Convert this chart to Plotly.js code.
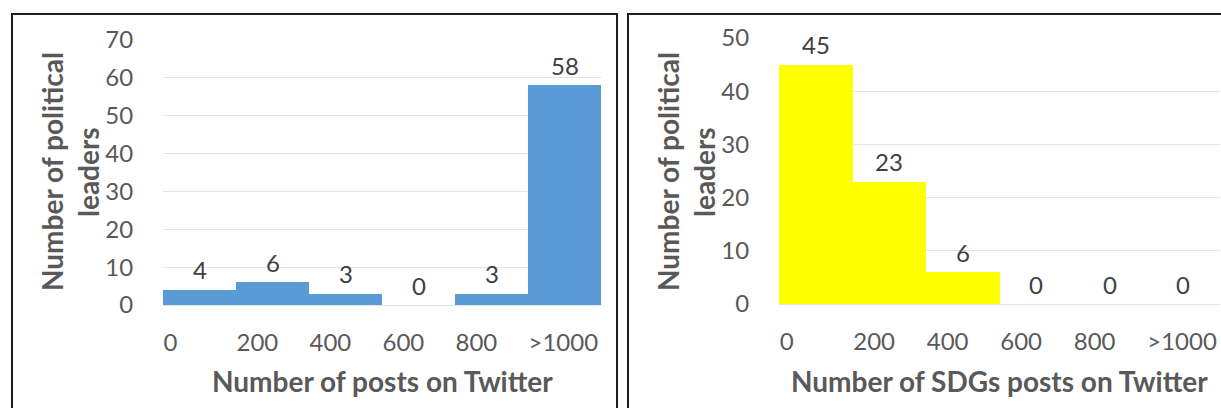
<!DOCTYPE html>
<html>
<head>
<meta charset="utf-8">
<script src="https://cdn.plot.ly/plotly-3.0.1.min.js"></script>
<style>
  html, body { margin: 0; padding: 0; background: #ffffff; }
  #chart { width: 1221px; height: 408px; }
</style>
</head>
<body>
<div id="chart"></div>
<script>
// ---- data ----
var categories = ['0', '200', '400', '600', '800', '>1000'];
var postsCounts = [4, 6, 3, 0, 3, 58];
var sdgPostsCounts = [45, 23, 6, 0, 0, 0];
var leftYTicks = [0, 10, 20, 30, 40, 50, 60, 70];
var rightYTicks = [0, 10, 20, 30, 40, 50];

var W = 1221, H = 408;
function px(x) { return x / W; }
function py(y) { return 1 - y / H; }

var FONT = 'Lato, "Open Sans", sans-serif';
var TICKC = '#595959';
var LABC = '#404040';
var TICKSIZE = 24;
var TITLESIZE = 28;

var traces = [
  { type: 'bar', x: categories, y: postsCounts, xaxis: 'x', yaxis: 'y',
    marker: { color: '#5b9bd5', line: { width: 0 } }, hoverinfo: 'skip' },
  { type: 'bar', x: categories, y: sdgPostsCounts, xaxis: 'x2', yaxis: 'y2',
    marker: { color: '#ffff00', line: { width: 0 } }, hoverinfo: 'skip' }
];

function xAxis(domain, anchor) {
  return {
    type: 'category', domain: domain, anchor: anchor,
    categoryorder: 'array', categoryarray: categories,
    range: [-0.5, categories.length - 0.5], autorange: false,
    showgrid: false, zeroline: false, showline: false,
    ticks: '', ticklabelstandoff: 21,
    ticklabelposition: 'outside right', ticklabelshift: -36,
    tickfont: { family: FONT, size: TICKSIZE, color: TICKC },
    fixedrange: true
  };
}
function yAxis(domain, anchor, range, ticks) {
  return {
    domain: domain, anchor: anchor, range: range, autorange: false,
    tickmode: 'array', tickvals: ticks,
    showgrid: true, gridcolor: '#e4e4e4', gridwidth: 1,
    zeroline: true, zerolinecolor: '#e4e4e4', zerolinewidth: 1,
    showline: false,
    ticks: 'outside', ticklen: 24, tickcolor: 'rgba(0,0,0,0)',
    tickfont: { family: FONT, size: TICKSIZE, color: TICKC },
    fixedrange: true
  };
}

var annotations = [];
function addValueLabels(vals, xr, yr) {
  vals.forEach(function (v, i) {
    annotations.push({
      x: i, y: v, xref: xr, yref: yr,
      text: String(v), showarrow: false,
      xanchor: 'center', yanchor: 'middle', yshift: 20,
      font: { family: FONT, size: TICKSIZE, color: LABC }
    });
  });
}
addValueLabels(postsCounts, 'x', 'y');
addValueLabels(sdgPostsCounts, 'x2', 'y2');

function titleAnn(text, x, y, angle) {
  annotations.push({
    x: px(x), y: py(y), xref: 'paper', yref: 'paper',
    text: '<b>' + text + '</b>', showarrow: false, textangle: angle,
    xanchor: 'center', yanchor: 'middle',
    font: { family: FONT, size: TITLESIZE, color: TICKC }
  });
}
// left panel titles
titleAnn('Number of political', 52, 172, -90);
titleAnn('leaders', 88, 172, -90);
titleAnn('Number of posts on Twitter', 382, 381, 0);
// right panel titles
titleAnn('Number of political', 668, 172, -90);
titleAnn('leaders', 704, 172, -90);
titleAnn('Number of SDGs posts on Twitter', 999, 381, 0);

var shapes = [
  { type: 'rect', xref: 'paper', yref: 'paper',
    x0: px(12), x1: px(617), y0: py(414), y1: py(14),
    line: { color: '#1e1e1e', width: 2 } },
  { type: 'rect', xref: 'paper', yref: 'paper',
    x0: px(628), x1: px(1226), y0: py(414), y1: py(14),
    line: { color: '#1e1e1e', width: 2 } }
];

var layout = {
  width: W, height: H,
  margin: { l: 0, r: 0, t: 0, b: 0 },
  paper_bgcolor: '#ffffff', plot_bgcolor: 'rgba(0,0,0,0)',
  showlegend: false,
  bargap: 0,
  xaxis: xAxis([px(163), px(601)], 'y'),
  yaxis: yAxis([py(305), py(40)], 'x', [0, 70], leftYTicks),
  xaxis2: xAxis([px(779), px(1220)], 'y2'),
  yaxis2: yAxis([py(304), py(38)], 'x2', [0, 50], rightYTicks),
  annotations: annotations,
  shapes: shapes,
  font: { family: FONT }
};

Plotly.newPlot('chart', traces, layout, { staticPlot: true, displayModeBar: false });
</script>
</body>
</html>
